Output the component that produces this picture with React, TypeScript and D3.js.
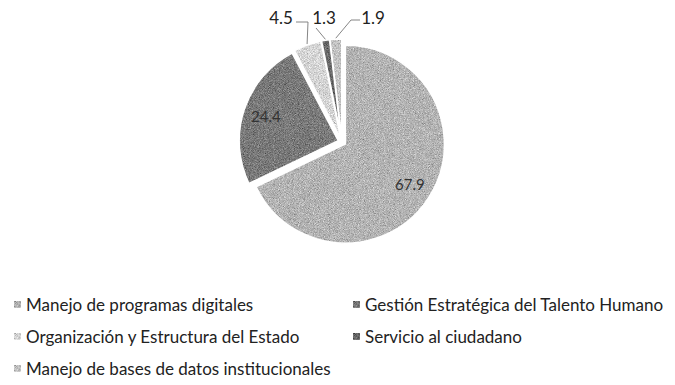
import React from "react";
import * as d3 from "d3";

// Share of each training topic (%)
const categories = [
  "Manejo de programas digitales",
  "Gestión Estratégica del Talento Humano",
  "Organización y Estructura del Estado",
  "Servicio al ciudadano",
  "Manejo de bases de datos institucionales",
];
const values = [67.9, 24.4, 4.5, 1.3, 1.9];
const valueLabels = ["67.9", "24.4", "4.5", "1.3", "1.9"];
const fills = ["#b4b4b4", "#7a7a7a", "#d6d6d6", "#6a6a6a", "#c4c4c4"];

const W = 675;
const H = 385;
const cx = 342;
const cy = 142;
const R = 99;
const explode = 4;

// outside label anchors for the thin slices (index -> position)
const outsideLabelPos: Record<number, [number, number]> = {
  2: [281, 24],
  3: [324, 24],
  4: [373, 24],
};

export default function App() {
  const pie = d3
    .pie<number>()
    .sort(null)
    .startAngle(0)
    .endAngle(2 * Math.PI)
    .value((d) => d);
  const arcs = pie(values);
  const arc = d3.arc<d3.PieArcDatum<number>>().innerRadius(0).outerRadius(R);

  const offset = (a: d3.PieArcDatum<number>, r: number) => {
    const m = (a.startAngle + a.endAngle) / 2;
    return [Math.sin(m) * r, -Math.cos(m) * r];
  };

  const legendCols = [14, 353];
  const legendRows = [305, 337, 369];

  return (
    <svg
      width={W}
      height={H}
      viewBox={`0 0 ${W} ${H}`}
      style={{ position: "absolute", left: 0, top: 0, background: "#fff" }}
    >
      <defs>
        <filter id="grain" x="-5%" y="-5%" width="110%" height="110%" colorInterpolationFilters="sRGB">
          <feTurbulence type="fractalNoise" baseFrequency="1.2" numOctaves="2" seed="7" result="noise" />
          <feColorMatrix
            in="noise"
            type="matrix"
            values="0.33 0.33 0.33 0 0  0.33 0.33 0.33 0 0  0.33 0.33 0.33 0 0  0 0 0 0 1"
            result="gray"
          />
          <feComposite in="SourceGraphic" in2="gray" operator="arithmetic" k1="0" k2="1" k3="0.9" k4="-0.45" result="mix" />
          <feComposite in="mix" in2="SourceGraphic" operator="in" />
        </filter>
      </defs>

      <g transform={`translate(${cx},${cy})`}>
        <g filter="url(#grain)">
          {arcs.map((a, i) => {
            const [dx, dy] = offset(a, explode);
            return (
              <path
                key={i}
                d={arc(a) || ""}
                transform={`translate(${dx},${dy})`}
                fill={fills[i]}
              />
            );
          })}
        </g>
        {/* clean white separators drawn over the textured slices */}
        {arcs.map((a, i) => {
          const [dx, dy] = offset(a, explode);
          return (
            <path
              key={i}
              d={arc(a) || ""}
              transform={`translate(${dx},${dy})`}
              fill="none"
              stroke="#fff"
              strokeWidth={1.5}
            />
          );
        })}
        {arcs.map((a, i) => {
          if (outsideLabelPos[i]) return null;
          const [x, y] = offset(a, R * 0.77 + explode);
          return (
            <text
              key={i}
              x={x}
              y={y}
              dy="0.35em"
              textAnchor="middle"
              fontFamily="Lato, 'Open Sans', sans-serif"
              fontSize={15}
              fill="#333"
            >
              {valueLabels[i]}
            </text>
          );
        })}
      </g>

      {/* thin slices: labels above the pie with leader lines */}
      {arcs.map((a, i) => {
        const pos = outsideLabelPos[i];
        if (!pos) return null;
        const [ox, oy] = offset(a, R + explode + 1);
        const sx = cx + ox;
        const sy = cy + oy;
        const [lx, ly] = pos;
        let pts: [number, number][];
        if (i === 2) pts = [[lx + 15, ly - 2], [lx + 27, ly - 2], [sx, sy]];
        else if (i === 3) pts = [[lx - 8, ly + 4], [sx, sy]];
        else pts = [[lx - 13, ly - 4], [lx - 22, ly - 4], [sx, sy]];
        return (
          <g key={i}>
            <path
              d={d3.line()(pts) || ""}
              fill="none"
              stroke="#777"
              strokeWidth={0.9}
            />
            <text
              x={lx}
              y={ly}
              textAnchor="middle"
              fontFamily="Lato, 'Open Sans', sans-serif"
              fontSize={17}
              fill="#222"
            >
              {valueLabels[i]}
            </text>
          </g>
        );
      })}

      {/* legend */}
      {categories.map((c, i) => {
        const x = legendCols[i % 2];
        const y = legendRows[Math.floor(i / 2)];
        return (
          <g key={c} transform={`translate(${x},${y})`}>
            <rect x={0} y={-4} width={7} height={7} fill={fills[i]} filter="url(#grain)" />
            <text
              x={12}
              y={0}
              dy="0.35em"
              fontFamily="Lato, 'Open Sans', sans-serif"
              fontSize={17}
              fill="#222"
            >
              {c}
            </text>
          </g>
        );
      })}
    </svg>
  );
}
